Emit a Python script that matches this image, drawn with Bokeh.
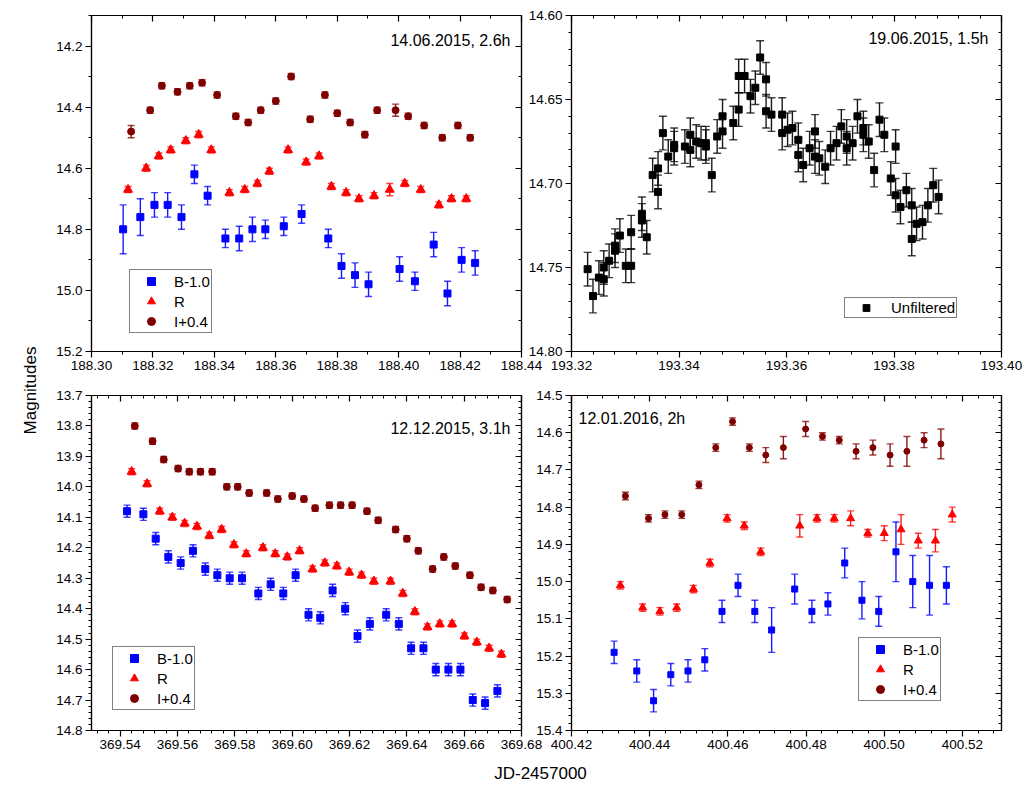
import numpy as np
from bokeh.plotting import figure
from bokeh.models import (Range1d, LinearAxis, FixedTicker, PrintfTickFormatter, CustomJSTickFormatter,
                          ColumnDataSource, Whisker, TeeHead, Legend, LegendItem, Label)
from bokeh.layouts import row, column
from bokeh.embed import file_html
from bokeh.resources import INLINE

FONT = "Liberation Sans"
BLUE, RED, BROWN, BLACK = "#0000FF", "#FF0000", "#800000", "#000000"

# ---------------- Panel 1: 14.06.2015 ----------------
p1_title = "14.06.2015, 2.6h"
p1_B_x = [188.3103, 188.3159, 188.3205, 188.3248, 188.3293, 188.3335, 188.3378, 188.3436, 188.3481, 188.3524,
          188.3566, 188.3626, 188.3684, 188.3771, 188.3814, 188.3858, 188.3902, 188.4003, 188.4053, 188.4114,
          188.4159, 188.4205, 188.4249]
p1_B_y = [14.80, 14.76, 14.72, 14.72, 14.76, 14.62, 14.69, 14.83, 14.83, 14.80, 14.80, 14.79, 14.75, 14.83,
          14.92, 14.95, 14.98, 14.93, 14.97, 14.85, 15.01, 14.90, 14.91]
p1_B_e = [0.08, 0.06, 0.04, 0.04, 0.04, 0.03, 0.03, 0.03, 0.04, 0.04, 0.03, 0.03, 0.03, 0.03, 0.04, 0.04,
          0.04, 0.04, 0.03, 0.04, 0.04, 0.04, 0.04]
p1_R_x = [188.3119, 188.3178, 188.3219, 188.3258, 188.3307, 188.3349, 188.3390, 188.3449, 188.3499, 188.3540,
          188.3579, 188.3640, 188.3699, 188.3741, 188.3781, 188.3829, 188.3871, 188.3920, 188.3971, 188.4020,
          188.4072, 188.4131, 188.4172, 188.4220]
p1_R_y = [14.67, 14.60, 14.56, 14.54, 14.51, 14.49, 14.54, 14.68, 14.67, 14.65, 14.61, 14.54, 14.58, 14.56,
          14.66, 14.68, 14.70, 14.69, 14.67, 14.65, 14.67, 14.72, 14.70, 14.70]
p1_R_e = [0.01, 0.01, 0.01, 0.01, 0.01, 0.01, 0.01, 0.01, 0.01, 0.01, 0.01, 0.01, 0.01, 0.01, 0.01, 0.01,
          0.01, 0.01, 0.02, 0.01, 0.01, 0.01, 0.01, 0.01]
p1_I_x = [188.3129, 188.3191, 188.3229, 188.3280, 188.3320, 188.3360, 188.3409, 188.3470, 188.3510, 188.3551,
          188.3600, 188.3650, 188.3712, 188.3760, 188.3800, 188.3842, 188.3890, 188.3930, 188.3990, 188.4031,
          188.4083, 188.4142, 188.4193, 188.4233]
p1_I_y = [14.48, 14.41, 14.33, 14.35, 14.33, 14.32, 14.36, 14.43, 14.45, 14.41, 14.38, 14.30, 14.44, 14.36,
          14.42, 14.45, 14.49, 14.41, 14.41, 14.43, 14.46, 14.50, 14.46, 14.50]
p1_I_e = [0.02, 0.01, 0.01, 0.01, 0.01, 0.01, 0.01, 0.01, 0.01, 0.01, 0.01, 0.01, 0.01, 0.01, 0.01, 0.01,
          0.01, 0.01, 0.02, 0.01, 0.01, 0.01, 0.01, 0.01]
p1_xticks = [188.30, 188.32, 188.34, 188.36, 188.38, 188.40, 188.42, 188.44]
p1_yticks = [14.2, 14.4, 14.6, 14.8, 15.0, 15.2]

# ---------------- Panel 2: 19.06.2015 (unfiltered) ----------------
p2_title = "19.06.2015, 1.5h"
p2_U_x = [193.3230, 193.3240, 193.3251, 193.3260, 193.3260, 193.3270, 193.3281, 193.3281, 193.3290, 193.3301,
          193.3311, 193.3311, 193.3331, 193.3331, 193.3340, 193.3351, 193.3361, 193.3361, 193.3370, 193.3380,
          193.3391, 193.3391, 193.3411, 193.3421, 193.3421, 193.3432, 193.3441, 193.3450, 193.3450, 193.3461,
          193.3471, 193.3481, 193.3481, 193.3501, 193.3511, 193.3511, 193.3522, 193.3533, 193.3542, 193.3551,
          193.3562, 193.3562, 193.3572, 193.3592, 193.3592, 193.3602, 193.3611, 193.3622, 193.3622, 193.3631,
          193.3643, 193.3653, 193.3653, 193.3661, 193.3672, 193.3682, 193.3693, 193.3702, 193.3712, 193.3712,
          193.3723, 193.3732, 193.3743, 193.3743, 193.3753, 193.3763, 193.3773, 193.3782, 193.3794, 193.3803,
          193.3803, 193.3812, 193.3823, 193.3833, 193.3833, 193.3842, 193.3853, 193.3863, 193.3873, 193.3883]
p2_U_y = [14.751, 14.767, 14.756, 14.750, 14.757, 14.746, 14.737, 14.740, 14.731, 14.749,
          14.749, 14.729, 14.718, 14.722, 14.732, 14.695, 14.691, 14.705, 14.670, 14.684,
          14.677, 14.679, 14.678, 14.671, 14.680, 14.675, 14.676, 14.676, 14.678, 14.695,
          14.672, 14.660, 14.669, 14.664, 14.656, 14.636, 14.636, 14.648, 14.643, 14.625,
          14.638, 14.657, 14.659, 14.659, 14.670, 14.668, 14.667, 14.674, 14.683, 14.689,
          14.679, 14.669, 14.684, 14.685, 14.690, 14.679, 14.676, 14.666, 14.672, 14.679,
          14.676, 14.660, 14.667, 14.671, 14.675, 14.692, 14.662, 14.671, 14.697, 14.678,
          14.707, 14.714, 14.704, 14.713, 14.733, 14.724, 14.723, 14.713, 14.701, 14.708]
p2_U_err = 0.010
p2_xticks = [193.32, 193.34, 193.36, 193.38, 193.40]
p2_yticks = [14.60, 14.65, 14.70, 14.75, 14.80]

# ---------------- Panel 3: 12.12.2015 ----------------
p3_title = "12.12.2015, 3.1h"
p3_B_x = [369.5424, 369.5481, 369.5524, 369.5568, 369.5611, 369.5654, 369.5697, 369.5739, 369.5782, 369.5825,
          369.5882, 369.5925, 369.5969, 369.6012, 369.6057, 369.6098, 369.6141, 369.6185, 369.6228, 369.6271,
          369.6328, 369.6372, 369.6415, 369.6458, 369.6501, 369.6545, 369.6587, 369.6630, 369.6673, 369.6716]
p3_B_y = [14.08, 14.09, 14.17, 14.23, 14.25, 14.21, 14.27, 14.29, 14.30, 14.30, 14.35, 14.32, 14.35, 14.29,
          14.42, 14.43, 14.34, 14.40, 14.49, 14.45, 14.42, 14.45, 14.53, 14.53, 14.60, 14.60, 14.60, 14.70,
          14.71, 14.67]
p3_B_err = 0.02
p3_R_x = [369.5440, 369.5494, 369.5538, 369.5582, 369.5625, 369.5668, 369.5711, 369.5754, 369.5797, 369.5840,
          369.5898, 369.5941, 369.5983, 369.6026, 369.6071, 369.6114, 369.6156, 369.6199, 369.6242, 369.6285,
          369.6343, 369.6386, 369.6428, 369.6472, 369.6515, 369.6558, 369.6601, 369.6644, 369.6687, 369.6730]
p3_R_y = [13.95, 13.99, 14.08, 14.10, 14.12, 14.13, 14.16, 14.14, 14.19, 14.22, 14.20, 14.22, 14.23, 14.21,
          14.27, 14.25, 14.26, 14.28, 14.29, 14.31, 14.31, 14.35, 14.41, 14.46, 14.45, 14.45, 14.49, 14.51,
          14.53, 14.55]
p3_R_err = 0.01
p3_I_x = [369.5451, 369.5513, 369.5552, 369.5602, 369.5641, 369.5680, 369.5721, 369.5772, 369.5810, 369.5850,
          369.5911, 369.5950, 369.6000, 369.6041, 369.6080, 369.6130, 369.6169, 369.6209, 369.6261, 369.6300,
          369.6361, 369.6400, 369.6440, 369.6490, 369.6529, 369.6569, 369.6620, 369.6659, 369.6700, 369.6750]
p3_I_y = [13.80, 13.85, 13.91, 13.94, 13.95, 13.95, 13.95, 14.00, 14.00, 14.02, 14.02, 14.04, 14.03, 14.04,
          14.07, 14.06, 14.06, 14.06, 14.08, 14.11, 14.14, 14.17, 14.21, 14.27, 14.23, 14.26, 14.29, 14.33,
          14.34, 14.37]
p3_I_err = 0.01
p3_xticks = [369.54, 369.56, 369.58, 369.60, 369.62, 369.64, 369.66, 369.68]
p3_yticks = [13.7, 13.8, 13.9, 14.0, 14.1, 14.2, 14.3, 14.4, 14.5, 14.6, 14.7, 14.8]

# ---------------- Panel 4: 12.01.2016 ----------------
p4_title = "12.01.2016, 2h"
p4_B_x = [400.4309, 400.4367, 400.4410, 400.4454, 400.4498, 400.4541, 400.4585, 400.4626, 400.4669, 400.4712,
          400.4771, 400.4815, 400.4856, 400.4899, 400.4943, 400.4986, 400.5030, 400.5073, 400.5116, 400.5159]
p4_B_y = [15.19, 15.24, 15.32, 15.25, 15.24, 15.21, 15.08, 15.01, 15.08, 15.13,
          15.02, 15.08, 15.06, 14.95, 15.05, 15.08, 14.92, 15.00, 15.01, 15.01]
p4_B_e = [0.03, 0.03, 0.03, 0.03, 0.03, 0.03, 0.03, 0.03, 0.03, 0.06,
          0.04, 0.03, 0.03, 0.04, 0.05, 0.04, 0.08, 0.07, 0.08, 0.05]
p4_R_x = [400.4325, 400.4382, 400.4426, 400.4469, 400.4512, 400.4554, 400.4598, 400.4642, 400.4684, 400.4784,
          400.4828, 400.4872, 400.4914, 400.4958, 400.5000, 400.5043, 400.5087, 400.5131, 400.5174]
p4_R_y = [15.01, 15.07, 15.08, 15.07, 15.02, 14.95, 14.83, 14.85, 14.92, 14.85,
          14.83, 14.83, 14.83, 14.87, 14.87, 14.86, 14.89, 14.89, 14.82]
p4_R_e = [0.01, 0.01, 0.01, 0.01, 0.01, 0.01, 0.01, 0.01, 0.01, 0.03,
          0.01, 0.01, 0.02, 0.01, 0.02, 0.04, 0.02, 0.03, 0.02]
p4_I_x = [400.4338, 400.4397, 400.4439, 400.4482, 400.4526, 400.4569, 400.4612, 400.4655, 400.4697, 400.4742,
          400.4799, 400.4842, 400.4885, 400.4928, 400.4971, 400.5015, 400.5058, 400.5102, 400.5145]
p4_I_y = [14.77, 14.83, 14.82, 14.82, 14.74, 14.64, 14.57, 14.64, 14.66, 14.64,
          14.59, 14.61, 14.62, 14.65, 14.64, 14.66, 14.65, 14.62, 14.63]
p4_I_e = [0.01, 0.01, 0.01, 0.01, 0.01, 0.01, 0.01, 0.01, 0.02, 0.03,
          0.02, 0.01, 0.01, 0.02, 0.02, 0.03, 0.04, 0.02, 0.04]
p4_xticks = [400.42, 400.44, 400.46, 400.48, 400.50, 400.52]
p4_yticks = [14.5, 14.6, 14.7, 14.8, 14.9, 15.0, 15.1, 15.2, 15.3, 15.4]

series_labels = ["B-1.0", "R", "I+0.4"]
unf_label = "Unfiltered"
x_title = "JD-2457000"
y_title = "Magnitudes"

FW = 430


def minor(lo, hi, step):
    n = int(round((hi - lo) / step))
    return [round(lo + i * step, 4) for i in range(n + 1)]


def add_axes(p, xt, xm, xfmt, yt, ym, yfmt):
    xtk = FixedTicker(ticks=xt, minor_ticks=xm)
    ytk = FixedTicker(ticks=yt, minor_ticks=ym)
    for place, tk, fmt, lab in [("below", xtk, xfmt, True), ("left", ytk, yfmt, True),
                                ("above", xtk, None, False), ("right", ytk, None, False)]:
        ax = LinearAxis(ticker=tk)
        ax.axis_line_width = 1.2
        ax.major_tick_line_width = 1.2
        ax.minor_tick_line_width = 1.0
        ax.axis_line_color = BLACK
        ax.major_tick_line_color = BLACK
        ax.minor_tick_line_color = BLACK
        if lab:
            ax.formatter = PrintfTickFormatter(format=fmt)
            ax.major_label_text_font = FONT
            ax.major_label_text_font_size = "13.5px"
            ax.major_label_text_color = BLACK
            ax.major_tick_out, ax.major_tick_in = 6, 0
            ax.minor_tick_out, ax.minor_tick_in = 3, 0
            ax.major_label_standoff = 3
        else:
            ax.formatter = CustomJSTickFormatter(code="return ''")
            ax.major_label_text_font_size = "0px"
            ax.major_label_standoff = 0
            ax.major_tick_out, ax.major_tick_in = 0, 6
            ax.minor_tick_out, ax.minor_tick_in = 0, 3
        p.add_layout(ax, place)


def make_panel(xr, yr, fh, bl, br, bt, bb, fill):
    p = figure(frame_width=FW, frame_height=fh, x_range=Range1d(*xr), y_range=Range1d(yr[1], yr[0]),
               x_axis_type=None, y_axis_type=None, toolbar_location=None, output_backend="svg",
               min_border_left=bl, min_border_right=br, min_border_top=bt, min_border_bottom=bb,
               background_fill_color="white", border_fill_color=fill,
               outline_line_color=BLACK, outline_line_width=1.2)
    p.xgrid.visible = False
    p.ygrid.visible = False
    return p


def add_series(p, xs, ys, errs, color, marker, size, cap=7):
    if not isinstance(errs, list):
        errs = [errs] * len(xs)
    src = ColumnDataSource(dict(x=xs, y=ys,
                                lo=[y - e for y, e in zip(ys, errs)],
                                hi=[y + e for y, e in zip(ys, errs)]))
    w = Whisker(source=src, base="x", lower="lo", upper="hi", dimension="height",
                line_color=color, line_width=1.4, line_alpha=0.9, level="underlay",
                upper_head=TeeHead(size=cap, line_color=color, line_width=1.4, line_alpha=0.75),
                lower_head=TeeHead(size=cap, line_color=color, line_width=1.4, line_alpha=0.75))
    p.add_layout(w)
    return p.scatter("x", "y", source=src, marker=marker, size=size, color=color)


def add_legend(p, items, loc, gh, gw, standoff, padding):
    lg = Legend(items=[LegendItem(label=l, renderers=[r]) for l, r in items], location=loc,
                glyph_height=gh, glyph_width=gw, label_height=gh, label_standoff=standoff,
                padding=padding, spacing=0, margin=0,
                label_text_font=FONT, label_text_font_size="15px", label_text_color=BLACK,
                border_line_color=BLACK, border_line_width=1.6, background_fill_color="white",
                background_fill_alpha=1.0)
    p.add_layout(lg)


def add_title(p, text, x, y, align):
    p.add_layout(Label(x=x, y=y, x_units="screen", y_units="screen", text=text, text_align=align,
                       text_baseline="middle", text_font=FONT, text_font_size="16px", text_color=BLACK))


# ---- Panel 1
p1 = make_panel((188.30, 188.44), (14.1, 15.2), 336, 46, 24, 15, 32, "white")
add_axes(p1, p1_xticks, minor(188.30, 188.44, 0.01), "%.2f", p1_yticks, minor(14.1, 15.2, 0.1), "%.1f")
rB = add_series(p1, p1_B_x, p1_B_y, p1_B_e, BLUE, "square", 7)
rR = add_series(p1, p1_R_x, p1_R_y, p1_R_e, RED, "triangle", 9)
rI = add_series(p1, p1_I_x, p1_I_y, p1_I_e, BROWN, "circle", 7)
add_legend(p1, list(zip(series_labels, [rB, rR, rI])), (38, 18), 20, 40, 3, 1)
add_title(p1, p1_title, FW - 11, 336 - 25, "right")

# ---- Panel 2
p2 = make_panel((193.32, 193.40), (14.60, 14.80), 336, 56, 23, 15, 32, None)
add_axes(p2, p2_xticks, minor(193.32, 193.40, 0.004), "%.2f", p2_yticks, minor(14.60, 14.80, 0.01), "%.2f")
rU = add_series(p2, p2_U_x, p2_U_y, p2_U_err, BLACK, "square", 7, cap=8)
add_legend(p2, [(unf_label, rU)], (273, 33), 17, 40, 5, 1)
add_title(p2, p2_title, FW - 13, 336 - 23, "right")
p2.margin = (0, 0, 0, -30)

# ---- Panel 3
p3 = make_panel((369.53, 369.68), (13.7, 14.8), 335, 46, 24, 12, 30, "white")
add_axes(p3, p3_xticks, minor(369.532, 369.68, 0.004), "%.2f", p3_yticks, minor(13.7, 14.8, 0.02), "%.1f")
rB3 = add_series(p3, p3_B_x, p3_B_y, p3_B_err, BLUE, "square", 7)
rR3 = add_series(p3, p3_R_x, p3_R_y, p3_R_err, RED, "triangle", 9)
rI3 = add_series(p3, p3_I_x, p3_I_y, p3_I_err, BROWN, "circle", 7)
add_legend(p3, list(zip(series_labels, [rB3, rR3, rI3])), (21, 20), 20, 40, 3, 1)
add_title(p3, p3_title, FW - 11, 335 - 33, "right")

# ---- Panel 4
p4 = make_panel((400.42, 400.53), (14.5, 15.4), 335, 56, 23, 12, 30, None)
add_axes(p4, p4_xticks, minor(400.42, 400.53, 0.004), "%.2f", p4_yticks, minor(14.5, 15.4, 0.02), "%.1f")
rB4 = add_series(p4, p4_B_x, p4_B_y, p4_B_e, BLUE, "square", 6)
rR4 = add_series(p4, p4_R_x, p4_R_y, p4_R_e, RED, "triangle", 8)
rI4 = add_series(p4, p4_I_x, p4_I_y, p4_I_e, BROWN, "circle", 6)
add_legend(p4, list(zip(series_labels, [rB4, rR4, rI4])), (287, 29), 20, 40, 3, 1)
add_title(p4, p4_title, 7, 335 - 23, "left")
p4.margin = (0, 0, 0, -30)


# ---- axis titles
def text_fig(w, h, text, x, y, angle):
    f = figure(width=w, height=h, x_range=Range1d(0, 1), y_range=Range1d(0, 1), x_axis_type=None,
               y_axis_type=None, toolbar_location=None, output_backend="svg", min_border=0,
               outline_line_color=None, background_fill_color="white", border_fill_color="white")
    f.xgrid.visible = False
    f.ygrid.visible = False
    f.add_layout(Label(x=x, y=y, x_units="screen", y_units="screen", text=text, angle=angle,
                       angle_units="deg", text_align="center", text_baseline="middle",
                       text_font=FONT, text_font_size="17px", text_color=BLACK))
    return f


H_TOTAL = 383 + 377 + 26
ylab = text_fig(45, H_TOTAL, y_title, 30, H_TOTAL - 390, 90)
xlab = text_fig(979, 26, x_title, 540 - 45, 13, 0)

layout = row(ylab, column(row(p1, p2), row(p3, p4), xlab))
open("out.html", "w").write(file_html(layout, INLINE))
